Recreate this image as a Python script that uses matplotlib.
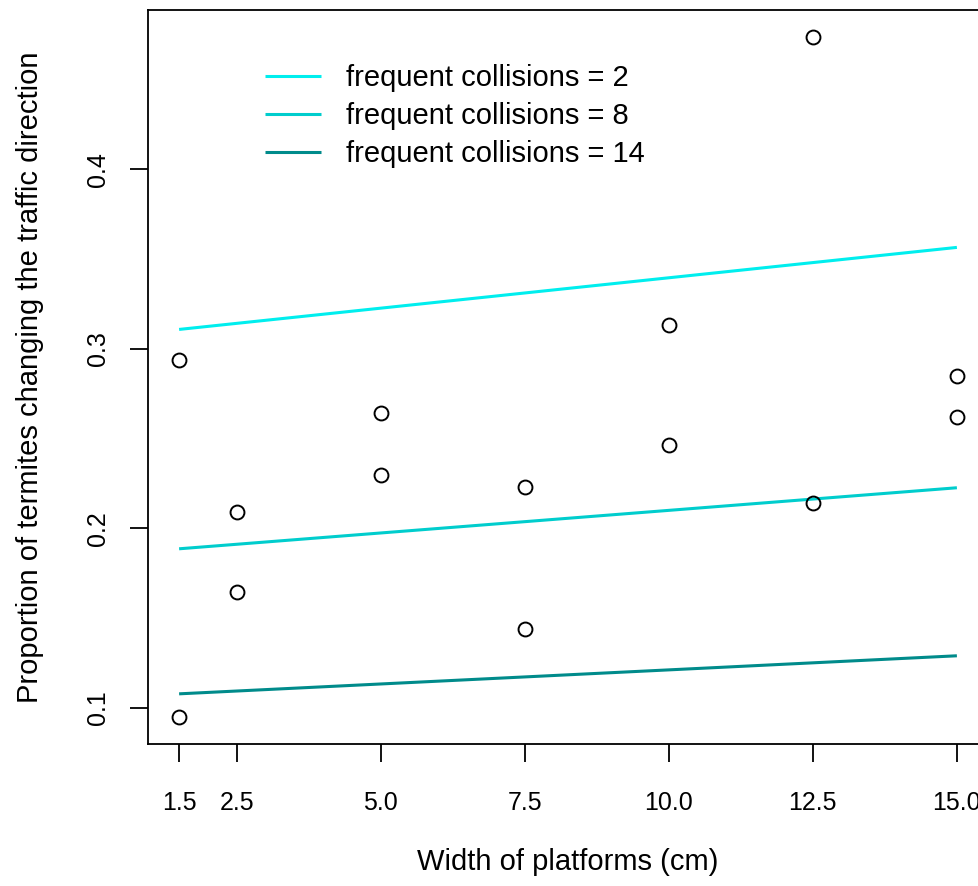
import matplotlib
matplotlib.use('Agg')
import matplotlib.pyplot as plt
import numpy as np

plt.rcParams['font.family'] = ['Liberation Sans', 'DejaVu Sans']

# Observed proportions (points)
width_pts = [1.5, 1.5, 2.5, 2.5, 5.0, 5.0, 7.5, 7.5, 10.0, 10.0, 12.5, 12.5, 15.0, 15.0]
prop_pts = [0.2935, 0.0950, 0.2093, 0.1646, 0.2645, 0.2299, 0.2232, 0.1440,
            0.3130, 0.2466, 0.4736, 0.2143, 0.2846, 0.2622]

# Fitted lines (endpoints at the width range)
line_x = [1.5, 15.0]
fit_2 = [0.3108, 0.3565]
fit_8 = [0.1886, 0.2226]
fit_14 = [0.1078, 0.1290]
fit_labels = ['frequent collisions = 2', 'frequent collisions = 8', 'frequent collisions = 14']
fit_colors = ['#00EEEE', '#00CDCD', '#008B8B']

x_ticks = [1.5, 2.5, 5.0, 7.5, 10.0, 12.5, 15.0]
y_ticks = [0.1, 0.2, 0.3, 0.4]

W, H = 979, 886
fig = plt.figure(figsize=(W / 100, H / 100), dpi=100)
# axes box runs past the right edge, as in the reference
ax = fig.add_axes([148 / W, (H - 744) / H, (988 - 148) / W, (744 - 10) / H])

for ys, lab, col in zip([fit_2, fit_8, fit_14], fit_labels, fit_colors):
    ax.plot(line_x, ys, color=col, lw=2.2, label=lab, solid_capstyle='butt')

ax.plot(width_pts, prop_pts, 'o', mfc='none', mec='black', ms=10, mew=1.4, clip_on=False)

rng = max(width_pts) - min(width_pts)
ax.set_xlim(min(width_pts) - 0.04 * rng, max(width_pts) + 0.04 * rng)
yr = max(prop_pts) - min(prop_pts)
ax.set_ylim(min(prop_pts) - 0.04 * yr, max(prop_pts) + 0.04 * yr)

ax.set_xticks(x_ticks)
ax.set_xticklabels(['%.1f' % v for v in x_ticks])
ax.set_yticks(y_ticks)
ax.set_yticklabels(['%.1f' % v for v in y_ticks], rotation=90, va='center')

ax.tick_params(axis='both', length=13, width=1.3, labelsize=18, direction='out')
ax.tick_params(axis='x', pad=21)
ax.tick_params(axis='y', pad=14)

for s in ['left', 'bottom', 'top', 'right']:
    ax.spines[s].set_linewidth(1.3)

# axis titles placed in figure pixels
fig.text(568 / W, 1 - 862 / H, 'Width of platforms (cm)', fontsize=21,
         ha='center', va='center')
fig.text(30 / W, 1 - 377 / H, 'Proportion of termites changing the traffic direction',
         fontsize=21, ha='center', va='center', rotation=90)

ax.legend(loc='upper left', bbox_to_anchor=(265 / W, (H - 64) / H),
          bbox_transform=fig.transFigure, frameon=False, fontsize=21,
          handlelength=1.92, handletextpad=0.86, labelspacing=0.35,
          borderpad=0, borderaxespad=0)

fig.savefig('out.png', dpi=100)
